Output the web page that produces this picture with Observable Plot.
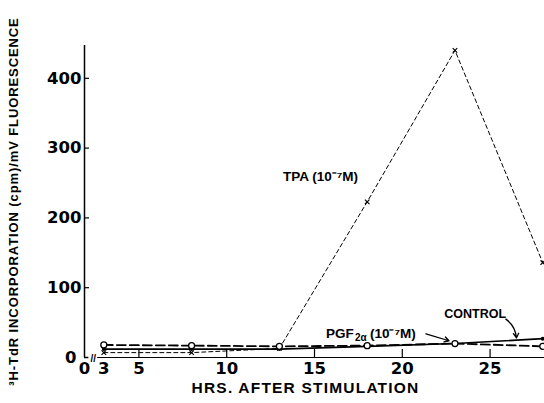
<!DOCTYPE html>
<html>
<head>
<meta charset="utf-8">
<script src="https://cdn.jsdelivr.net/npm/d3@7"></script>
<script src="https://cdn.jsdelivr.net/npm/@observablehq/plot@0.6"></script>
<style>
  html, body { margin: 0; padding: 0; background: #fff; }
  svg { display: block; }
</style>
</head>
<body>
<div id="chart"></div>
<script>
// ---- data ----
const hours   = [3, 8, 13, 18, 23, 28];
const tpa     = [7, 7, 13, 223, 440, 136];
const control = [12, 12, 12, 16, 20, 27];
const pgf     = [18, 17, 16, 17, 20, 16];

const xTicks = [3, 5, 10, 15, 20, 25];
const yTicks = [100, 200, 300, 400];
const xStart = 1.9;   // left end of the (broken) hour axis, labelled "0"
const xEnd = 28.1;
const yMax = 447;

const xLabel = "HRS. AFTER STIMULATION";
const yLabel = "³H-TdR INCORPORATION (cpm)/mV FLUORESCENCE";

const rows = (vals, series) => hours.map((h, i) => ({h, v: vals[i], series}));
const tpaData = rows(tpa, "TPA");
const ctlData = rows(control, "CONTROL");
const pgfData = rows(pgf, "PGF");

const font = "Liberation Sans, Arial, Helvetica, sans-serif";
const tickFont = "DejaVu Sans, Verdana, sans-serif";

const chart = Plot.plot({
  width: 544,
  height: 403,
  marginLeft: 84,
  marginRight: 0,
  marginTop: 45,
  marginBottom: 46,
  style: {fontFamily: font, color: "#000", background: "#fff"},
  x: {domain: [xStart, xEnd]},
  y: {domain: [0, yMax]},
  marks: [
    // axis lines
    Plot.ruleX([xStart], {y1: 0, y2: yMax, stroke: "#000", strokeWidth: 1.5}),
    Plot.ruleY([0], {x1: xStart, x2: 2.15, stroke: "#000", strokeWidth: 1.5}),
    Plot.ruleY([0], {x1: 2.65, x2: xEnd, stroke: "#000", strokeWidth: 1.2}),
    Plot.text(["//"], {x: 2.4, y: 0, fontSize: 10, fontWeight: "bold", dy: 1}),
    // inward ticks
    Plot.axisY({ticks: yTicks, tickSize: 5, dx: 5, tickFormat: () => "", label: null, strokeWidth: 1.2}),
    Plot.axisX({ticks: [5, 10, 15, 20, 25], tickSize: 8, dy: -8, tickFormat: () => "", label: null, strokeWidth: 1.2}),
    // tick labels
    Plot.axisY({ticks: yTicks, tickSize: 0, tickPadding: 3, label: null, fontSize: 16.5, fontWeight: "bold", fontFamily: tickFont}),
    Plot.axisY({ticks: [0], tickSize: 0, tickPadding: 8, label: null, fontSize: 16.5, fontWeight: "bold", fontFamily: tickFont}),
    Plot.axisX({ticks: [xStart, ...xTicks], tickSize: 0, tickPadding: 5, label: null,
      tickFormat: d => d < 2 ? "0" : String(d), fontSize: 16.5, fontWeight: "bold", fontFamily: tickFont}),
    // axis titles
    Plot.text([xLabel], {frameAnchor: "bottom", lineAnchor: "middle", textAnchor: "middle", dy: 31, dx: -9, fontSize: 15.5, fontWeight: "bold"}),
    Plot.text([yLabel], {frameAnchor: "left", lineAnchor: "middle", textAnchor: "middle", rotate: -90, dx: -71, fontSize: 13, fontWeight: "bold"}),
    // series
    Plot.line(tpaData, {x: "h", y: "v", stroke: "#000", strokeWidth: 1, strokeDasharray: "4,3"}),
    Plot.line(ctlData, {x: "h", y: "v", stroke: "#000", strokeWidth: 1.6}),
    Plot.line(pgfData, {x: "h", y: "v", stroke: "#000", strokeWidth: 1.8, strokeDasharray: "9,4"}),
    Plot.dot(tpaData, {x: "h", y: "v", symbol: "times", r: 2.2, stroke: "#000", strokeWidth: 1.2}),
    Plot.dot(ctlData, {x: "h", y: "v", r: 2, fill: "#000"}),
    Plot.dot(pgfData, {x: "h", y: "v", r: 3, fill: "#fff", stroke: "#000", strokeWidth: 1.3}),
    // annotations
    Plot.text(["TPA (10⁻⁷M)"], {x: 13.2, y: 259, textAnchor: "start", fontSize: 13.5, fontWeight: "bold"}),
    Plot.text(["PGF"], {x: 15.65, y: 34, textAnchor: "start", fontSize: 13.5, fontWeight: "bold"}),
    Plot.text(["2α"], {x: 15.65, y: 34, dx: 29, dy: 4, textAnchor: "start", fontSize: 10, fontWeight: "bold"}),
    Plot.text(["(10⁻⁷M)"], {x: 15.65, y: 34, dx: 44, textAnchor: "start", fontSize: 13.5, fontWeight: "bold"}),
    Plot.arrow([{x1: 21.35, y1: 34, x2: 22.66, y2: 24}], {x1: "x1", y1: "y1", x2: "x2", y2: "y2", stroke: "#000", strokeWidth: 1.3, headLength: 6}),
    Plot.text(["CONTROL"], {x: 24.15, y: 63, fontSize: 12.5, fontWeight: "bold"}),
    Plot.arrow([{x1: 25.9, y1: 55, x2: 26.5, y2: 28}], {x1: "x1", y1: "y1", x2: "x2", y2: "y2", stroke: "#000", strokeWidth: 1.3, bend: 25, headLength: 6})
  ]
});
// letter spacing for the axis titles (the reference is widely spaced)
d3.select(chart).selectAll("text").each(function() {
  const t = this.textContent;
  if (t === xLabel) this.setAttribute("letter-spacing", "1.2");
  if (t === yLabel) this.setAttribute("letter-spacing", "0.9");
});
document.getElementById("chart").appendChild(chart);
</script>
</body>
</html>
